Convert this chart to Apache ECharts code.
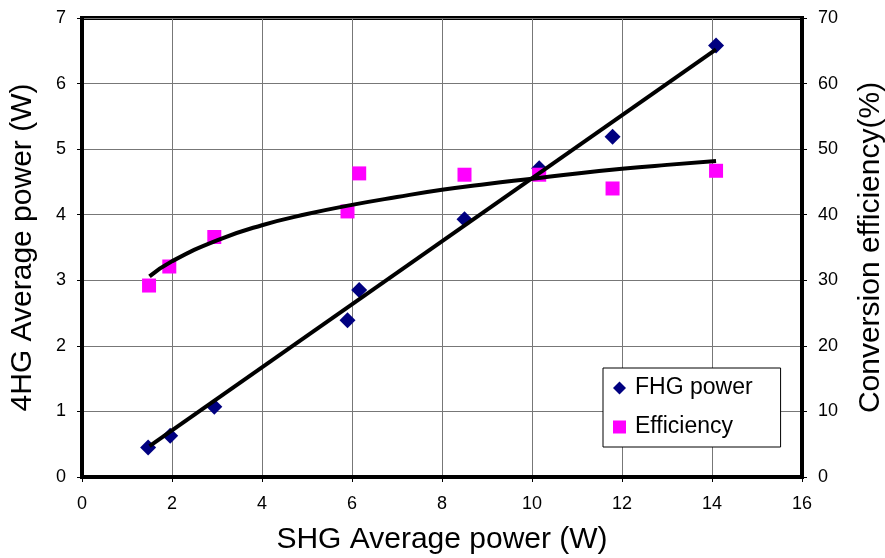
<!DOCTYPE html>
<html>
<head>
<meta charset="utf-8">
<script src="https://cdn.jsdelivr.net/npm/echarts@6/dist/echarts.min.js"></script>
<style>
html,body{margin:0;padding:0;background:#fff;}
#chart{width:885px;height:558px;}
</style>
</head>
<body>
<div id="chart"></div>
<script>
// SHG average power (W) for each measurement
const shgFHG = [1.47, 1.96, 2.94, 5.9, 6.16, 8.5, 10.16, 11.79, 14.09];
// 4HG (FHG) average power (W)
const fhgPower = [0.45, 0.63, 1.07, 2.39, 2.85, 3.93, 4.71, 5.19, 6.58];
// SHG average power (W) for efficiency points
const shgEff = [1.49, 1.94, 2.94, 5.9, 6.16, 8.5, 10.16, 11.79, 14.09];
// Conversion efficiency (%)
const efficiency = [29.2, 32.1, 36.6, 40.5, 46.3, 46.1, 46.1, 44.0, 46.7];
// Linear trend line of FHG power
const fhgTrendX = [1.5, 14.09];
const fhgTrendY = [0.47, 6.52];
// Trend curve of efficiency
const effTrendX = [1.5, 2, 3, 4, 5, 6, 7, 8, 9, 10, 11, 12, 13, 14.09];
const effTrendY = [30.6, 32.9, 36.1, 38.4, 40.1, 41.5, 42.7, 43.8, 44.7, 45.5, 46.3, 47.0, 47.6, 48.2];

const seriesNames = ['FHG power', 'Efficiency'];
const xAxisTitle = 'SHG Average power (W)';
const yLeftTitle = '4HG Average power (W)';
const yRightTitle = 'Conversion efficiency(%)';

const zip = (a, b) => a.map((v, i) => [v, b[i]]);
const FONT = "'Liberation Sans', Arial, sans-serif";

const chart = echarts.init(document.getElementById('chart'), null, {renderer: 'canvas'});
chart.setOption({
  animation: false,
  backgroundColor: '#fff',
  textStyle: {fontFamily: FONT},
  grid: {left: 82, right: 83, top: 18, bottom: 81, show: true, borderColor: '#000', borderWidth: 4,
         containLabel: false, outerBoundsMode: 'none'},
  legend: {
    data: [{name: seriesNames[0], icon: 'diamond'}, {name: seriesNames[1], icon: 'rect'}],
    orient: 'vertical',
    left: 603, top: 368,
    padding: [7, 28, 7, 10],
    itemWidth: 13, itemHeight: 13, itemGap: 13,
    backgroundColor: '#fff', borderColor: '#000', borderWidth: 1, borderRadius: 0,
    textStyle: {fontSize: 23, color: '#000', fontFamily: FONT, lineHeight: 26, padding: [0,0,0,4]}
  },
  xAxis: {
    type: 'value', min: 0, max: 16, interval: 2,
    name: xAxisTitle, nameLocation: 'middle', nameGap: 48,
    nameTextStyle: {fontSize: 30, color: '#000', fontFamily: FONT},
    axisLine: {show: true, lineStyle: {color: '#000', width: 4}},
    axisTick: {show: true, inside: false, length: 5, lineStyle: {color: '#000', width: 1}},
    axisLabel: {fontSize: 18, color: '#000', margin: 18, fontFamily: FONT},
    splitLine: {show: true, lineStyle: {color: '#777', width: 1}}
  },
  yAxis: [{
    type: 'value', min: 0, max: 7, interval: 1, position: 'left',
    name: yLeftTitle, nameLocation: 'middle', nameGap: 44,
    nameTextStyle: {fontSize: 30, color: '#000', fontFamily: FONT},
    axisLine: {show: true, lineStyle: {color: '#000', width: 4}},
    axisTick: {show: true, inside: false, length: 5, lineStyle: {color: '#000', width: 1}},
    axisLabel: {fontSize: 18, color: '#000', margin: 16, fontFamily: FONT},
    splitLine: {show: true, lineStyle: {color: '#777', width: 1}}
  }, {
    type: 'value', min: 0, max: 70, interval: 10, position: 'right',
    name: yRightTitle, nameLocation: 'middle', nameGap: 54,
    nameTextStyle: {fontSize: 30, color: '#000', fontFamily: FONT},
    axisLine: {show: true, lineStyle: {color: '#000', width: 4}},
    axisTick: {show: true, inside: false, length: 5, lineStyle: {color: '#000', width: 1}},
    axisLabel: {fontSize: 18, color: '#000', margin: 16, fontFamily: FONT},
    splitLine: {show: false}
  }],
  series: [{
    name: seriesNames[0], type: 'scatter', yAxisIndex: 0, z: 2,
    symbol: 'diamond', symbolSize: 16,
    itemStyle: {color: '#000080', opacity: 1},
    data: zip(shgFHG, fhgPower)
  }, {
    name: seriesNames[1], type: 'scatter', yAxisIndex: 1, z: 3,
    symbol: 'rect', symbolSize: 14,
    itemStyle: {color: '#FF00FF', opacity: 1},
    data: zip(shgEff, efficiency)
  }, {
    name: 'fhgTrend', type: 'line', yAxisIndex: 0, z: 4,
    showSymbol: false, symbol: 'none', silent: true,
    lineStyle: {color: '#000', width: 4},
    data: zip(fhgTrendX, fhgTrendY)
  }, {
    name: 'effTrend', type: 'line', yAxisIndex: 1, z: 4, smooth: true,
    showSymbol: false, symbol: 'none', silent: true,
    lineStyle: {color: '#000', width: 4},
    data: zip(effTrendX, effTrendY)
  }]
});
</script>
</body>
</html>
